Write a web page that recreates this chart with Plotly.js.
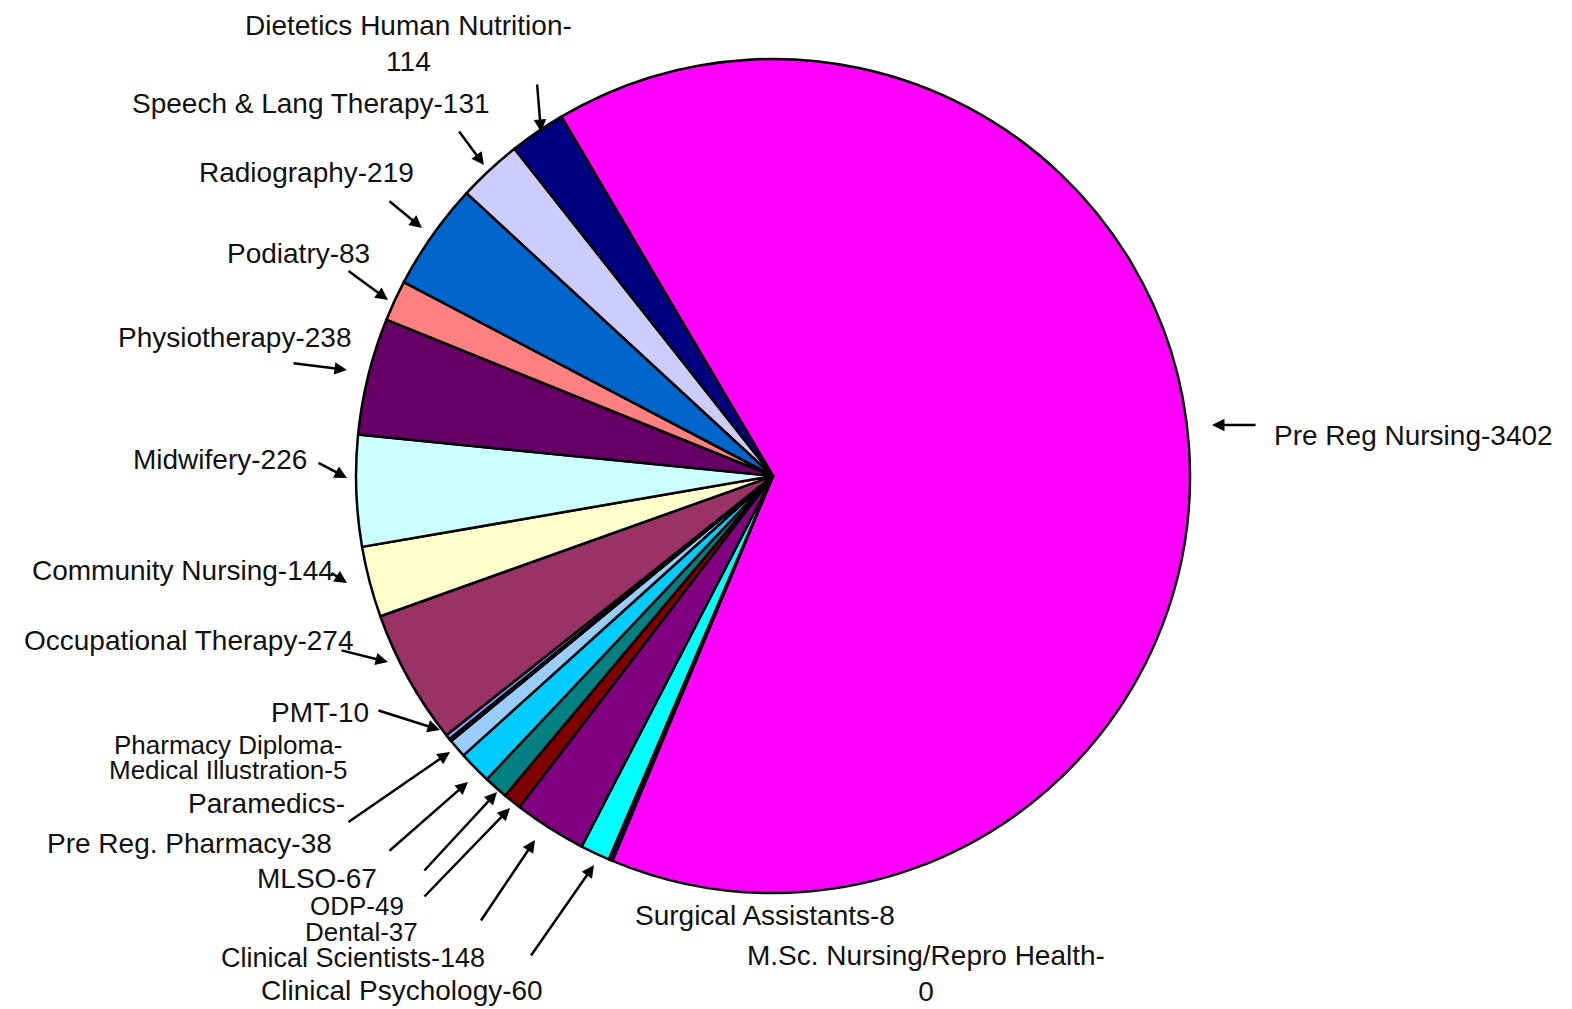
<!DOCTYPE html>
<html>
<head>
<meta charset="utf-8">
<script src="https://cdn.plot.ly/plotly-3.0.1.min.js"></script>
<style>
  html, body { margin: 0; padding: 0; background: #ffffff; }
  #chart { width: 1572px; height: 1009px; }
</style>
</head>
<body>
<div id="chart"></div>
<script>
// ---- Data (clockwise order starting at the Pre Reg Nursing slice) ----
const categories = [
  "Pre Reg Nursing",
  "Surgical Assistants",
  "M.Sc. Nursing/Repro Health",
  "Clinical Psychology",
  "Clinical Scientists",
  "Dental",
  "ODP",
  "MLSO",
  "Pre Reg. Pharmacy",
  "Paramedics",
  "Medical Illustration",
  "Pharmacy Diploma",
  "PMT",
  "Occupational Therapy",
  "Community Nursing",
  "Midwifery",
  "Physiotherapy",
  "Podiatry",
  "Radiography",
  "Speech & Lang Therapy",
  "Dietetics Human Nutrition"
];
const values = [3402, 8, 0, 60, 148, 37, 49, 67, 38, 0, 5, 0, 10, 274, 144, 226, 238, 83, 219, 131, 114];
const sliceColors = [
  "#FF00FF", "#000080", "#FFFF00", "#00FFFF", "#800080", "#800000", "#008080",
  "#00CCFF", "#99CCFF", "#CCFFFF", "#CCFFCC", "#FFFF99", "#9999FF", "#993366",
  "#FFFFCC", "#CCFFFF", "#660066", "#FF8080", "#0066CC", "#CCCCFF", "#000080"
];

// Label texts as printed on the chart
const labelTexts = [
  "Pre Reg Nursing-3402",
  "Surgical Assistants-8",
  "M.Sc. Nursing/Repro Health-<br>0",
  "Clinical Psychology-60",
  "Clinical Scientists-148",
  "Dental-37",
  "ODP-49",
  "MLSO-67",
  "Pre Reg. Pharmacy-38",
  "Paramedics-",
  "Medical Illustration-5",
  "Pharmacy Diploma-",
  "PMT-10",
  "Occupational Therapy-274",
  "Community Nursing-144",
  "Midwifery-226",
  "Physiotherapy-238",
  "Podiatry-83",
  "Radiography-219",
  "Speech & Lang Therapy-131",
  "Dietetics Human Nutrition-<br>114"
];

// ---- Layout helpers (pixel positions of labels / arrows) ----
const W = 1572, H = 1009;
const CX = 773, CY = 476, R = 417;
const px = x => x / W;
const py = y => 1 - y / H;

const labelPos = [
  [1413, 435], [765, 915], [926, 973], [402, 990], [353, 958], [361, 932],
  [357, 906], [317, 878], [189, 843], [266, 803], [228, 770], [228, 745],
  [320, 712], [188, 640], [183, 570], [220, 459], [234, 338], [298, 253],
  [306, 172], [311, 103], [408, 43]
];
const labelSizes = [
  28, 28, 28, 28, 27, 26,
  26, 28, 28, 28, 26, 26,
  28, 28, 28, 28, 28, 28,
  28, 28, 28
];

const arrows = [
  [1257, 425, 1212, 425],
  [537, 83, 541, 132],
  [458, 130, 484, 165],
  [388, 200, 422, 228],
  [347, 270, 388, 300],
  [292, 363, 347, 370],
  [317, 462, 347, 478],
  [330, 572, 347, 583],
  [340, 650, 388, 662],
  [377, 710, 440, 730],
  [347, 823, 450, 752],
  [388, 852, 468, 782],
  [423, 872, 497, 792],
  [423, 898, 510, 808],
  [480, 922, 535, 840],
  [530, 957, 594, 865]
];

const annotations = [];
labelTexts.forEach((t, i) => {
  annotations.push({
    xref: "paper", yref: "paper",
    x: px(labelPos[i][0]), y: py(labelPos[i][1]),
    xanchor: "center", yanchor: "middle",
    text: t, showarrow: false, align: "center", borderpad: 0,
    font: { family: "Liberation Sans, Arial, sans-serif", size: labelSizes[i], color: "#111111" }
  });
});
arrows.forEach(a => {
  annotations.push({
    xref: "paper", yref: "paper",
    x: px(a[2]), y: py(a[3]),
    ax: a[0] - a[2], ay: a[1] - a[3],
    text: "", showarrow: true,
    arrowhead: 2, arrowsize: 1, arrowwidth: 2.5, arrowcolor: "#000000"
  });
});

const trace = {
  type: "pie",
  labels: categories,
  values: values,
  sort: false,
  direction: "clockwise",
  rotation: -30.5,
  textinfo: "none",
  hoverinfo: "label+value+percent",
  marker: { colors: sliceColors, line: { color: "#000000", width: 2.5 } },
  domain: {
    x: [(CX - R) / W, (CX + R) / W],
    y: [(H - CY - R) / H, (H - CY + R) / H]
  },
  showlegend: false
};

const layout = {
  width: W, height: H,
  margin: { l: 0, r: 0, t: 0, b: 0, pad: 0 },
  paper_bgcolor: "#ffffff",
  plot_bgcolor: "#ffffff",
  showlegend: false,
  annotations: annotations
};

Plotly.newPlot("chart", [trace], layout, { displayModeBar: false, staticPlot: true });
</script>
</body>
</html>
